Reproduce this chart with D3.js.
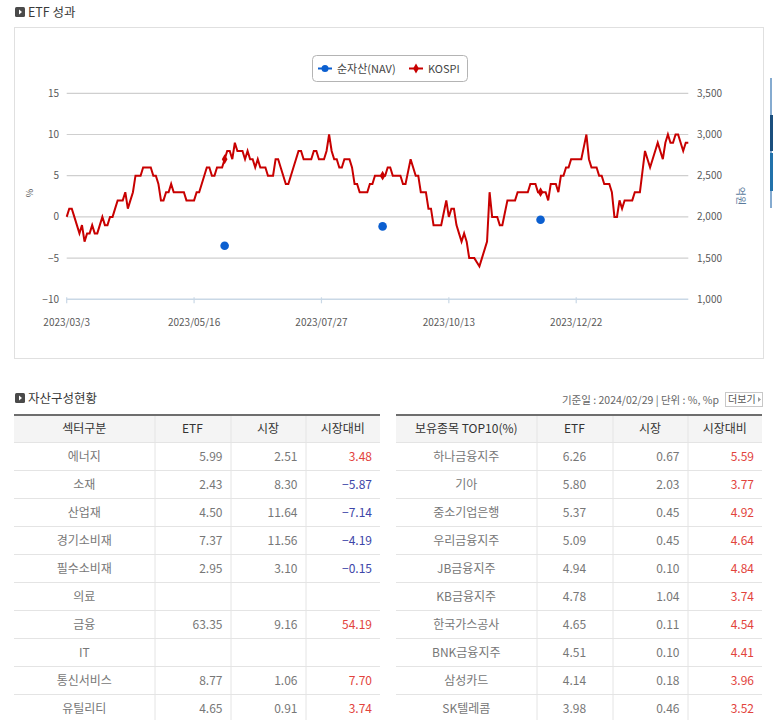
<!DOCTYPE html>
<html>
<head>
<meta charset="utf-8">
<script src="https://cdn.jsdelivr.net/npm/d3@7"></script>
<style>
  body { margin: 0; background: #fff; }
  svg { font-family: "Noto Sans CJK KR", "Noto Sans", sans-serif; display: block; }
</style>
</head>
<body>
<svg id="page" width="773" height="720"></svg>
<script>
// KOSPI return (%) per trading day, 2023/03/03 .. 2024/02/29
const kospi = [
  0, 1, 1, 0, -1, -2, -1, -3, -2, -2,
  -1, -2, -2, -1, 0, -1, -1, 0, 0, 1,
  2, 2, 2, 3, 1, 2, 3, 5, 5, 5,
  6, 6, 6, 6, 5, 5, 4, 2, 2, 3,
  3, 4, 3, 3, 3, 3, 3, 2, 2, 2,
  2, 3, 3, 4, 5, 6, 6, 5, 5, 6,
  6, 6, 7, 8, 8, 7, 9, 8, 8, 8,
  7, 8, 7, 7, 6, 7, 6, 6, 6, 5,
  5, 5, 7, 7, 6, 5, 4, 4, 5, 6,
  7, 8, 8, 7, 7, 7, 7, 8, 8, 7,
  7, 7, 8, 10, 8, 7, 7, 6, 6, 7,
  7, 7, 6, 4, 4, 3, 3, 3, 3, 4,
  4, 5, 5, 5, 5, 5, 6, 6, 5, 5,
  5, 5, 4, 4, 5.5, 7, 6, 5, 5, 3,
  3, 3, 1, 1, -1, -1, -1, -1, 0.5, 2,
  0, 1, 1, -1, -2, -3, -2, -3, -5, -5,
  -5, -5.5, -6, -5, -4, -3, 3, 0, 0, 0,
  -1, -1, 0.5, 2, 2, 2, 2, 3, 3, 3,
  3, 3, 4, 4, 4, 3, 3, 3, 3, 2,
  4, 4, 4, 3, 5, 5, 6, 6, 7, 7,
  7, 7, 7, 8.5, 10, 7, 6, 6, 6, 5,
  5, 4, 4, 4, 3, 0, 0, 2, 1, 2,
  2, 2, 2, 3, 3, 3, 5.5, 8, 7, 6,
  7, 8, 9, 8, 7, 9, 10, 9, 9, 10,
  10, 9, 8, 9, 9
];
// NAV (억원) only reported on a few days
const navIdx = [62, 124, 186];
const navVals = [1650, 1885, 1965];

const xTickIdx = [0, 50, 100, 150, 200];
const xTickLabels = ["2023/03/3", "2023/05/16", "2023/07/27", "2023/10/13", "2023/12/22"];
const leftTicks = [-10, -5, 0, 5, 10, 15];
const rightTicks = [1000, 1500, 2000, 2500, 3000, 3500];

// 자산구성현황
const sectors = ["에너지", "소재", "산업재", "경기소비재", "필수소비재", "의료", "금융", "IT", "통신서비스", "유틸리티"];
const sectorEtf = [5.99, 2.43, 4.50, 7.37, 2.95, null, 63.35, null, 8.77, 4.65];
const sectorMkt = [2.51, 8.30, 11.64, 11.56, 3.10, null, 9.16, null, 1.06, 0.91];
const sectorDiff = [3.48, -5.87, -7.14, -4.19, -0.15, null, 54.19, null, 7.70, 3.74];

const holdings = ["하나금융지주", "기아", "중소기업은행", "우리금융지주", "JB금융지주", "KB금융지주", "한국가스공사", "BNK금융지주", "삼성카드", "SK텔레콤"];
const holdEtf = [6.26, 5.80, 5.37, 5.09, 4.94, 4.78, 4.65, 4.51, 4.14, 3.98];
const holdMkt = [0.67, 2.03, 0.45, 0.45, 0.10, 1.04, 0.11, 0.10, 0.18, 0.46];
const holdDiff = [5.59, 3.77, 4.92, 4.64, 4.84, 3.74, 4.54, 4.41, 3.96, 3.52];

const svg = d3.select("#page");

/**
 * Section title with small dark box icon
 */
function sectionTitle(x, y, label) {
  const g = svg.append("g").attr("transform", `translate(${x},${y})`);
  g.append("rect").attr("width", 10).attr("height", 10).attr("rx", 1.5).attr("fill", "#4a4a4a");
  g.append("path").attr("d", "M4,2.5 L7,5 L4,7.5 Z").attr("fill", "#fff");
  g.append("text").attr("x", 13).attr("y", 10)
    .attr("font-size", 12.5).attr("fill", "#3a3a3a").text(label);
}

sectionTitle(15, 7, "ETF 성과");

// chart panel
svg.append("rect").attr("x", 14.5).attr("y", 27.5).attr("width", 749).attr("height", 331)
  .attr("fill", "#fff").attr("stroke", "#e0e0e0");

// right edge tabs (part of the page behind)
svg.append("line").attr("x1", 771).attr("x2", 771).attr("y1", 78).attr("y2", 208)
  .attr("stroke", "#5d8fc0").attr("stroke-width", 1.5);
svg.append("rect").attr("x", 770).attr("y", 115).attr("width", 3).attr("height", 36).attr("fill", "#1b4f7e");
svg.append("rect").attr("x", 770).attr("y", 153).attr("width", 3).attr("height", 38).attr("fill", "#2272ab");

const x = d3.scaleLinear().domain([0, kospi.length - 1]).range([66.7, 688.3]);
const yL = d3.scaleLinear().domain([-10, 15]).range([299.3, 93.3]);
const yR = d3.scaleLinear().domain([1000, 3500]).range([299.3, 93.3]);

// grid lines
svg.append("g").selectAll("line")
  .data(leftTicks.filter((d) => d !== -10))
  .enter().append("line")
  .attr("x1", x(0)).attr("x2", x(kospi.length - 1))
  .attr("y1", (d) => yL(d)).attr("y2", (d) => yL(d))
  .attr("stroke", "#cfcfcf").attr("stroke-width", 1.2);

// x axis baseline + ticks
svg.append("line")
  .attr("x1", x(0)).attr("x2", x(kospi.length - 1))
  .attr("y1", yL(-10)).attr("y2", yL(-10))
  .attr("stroke", "#c9d8e6").attr("stroke-width", 1.5);
svg.append("g").selectAll("line")
  .data(xTickIdx).enter().append("line")
  .attr("x1", (d) => x(d)).attr("x2", (d) => x(d))
  .attr("y1", yL(-10) - 2).attr("y2", yL(-10) + 4)
  .attr("stroke", "#c9d8e6").attr("stroke-width", 1.2);
svg.append("g").selectAll("text")
  .data(xTickIdx).enter().append("text")
  .attr("x", (d) => x(d)).attr("y", 326)
  .attr("text-anchor", "middle").attr("font-size", 10).attr("fill", "#5a5a5a")
  .text((d, i) => xTickLabels[i]);

// left axis labels
svg.append("g").selectAll("text")
  .data(leftTicks).enter().append("text")
  .attr("x", 59).attr("y", (d) => yL(d) + 3.5)
  .attr("text-anchor", "end").attr("font-size", 10).attr("fill", "#5a5a5a")
  .text((d) => (d < 0 ? "\u2212" + Math.abs(d) : d));
svg.append("text").attr("transform", "translate(33,193) rotate(-90)")
  .attr("text-anchor", "middle").attr("font-size", 9).attr("fill", "#555").text("%");

// right axis labels
svg.append("g").selectAll("text")
  .data(rightTicks).enter().append("text")
  .attr("x", 697).attr("y", (d) => yR(d) + 3.5)
  .attr("font-size", 10).attr("fill", "#5a5a5a")
  .text((d) => d3.format(",")(d));
svg.append("text").attr("transform", "translate(737,196) rotate(90)")
  .attr("text-anchor", "middle").attr("font-size", 10).attr("fill", "#5a7a9c").text("억원");

// KOSPI line
const line = d3.line().x((d, i) => x(i)).y((d) => yL(d));
svg.append("path").datum(kospi)
  .attr("d", line).attr("fill", "none")
  .attr("stroke", "#c80000").attr("stroke-width", 2).attr("stroke-linejoin", "miter");

// KOSPI markers on NAV days
const diamond = d3.symbol().type(d3.symbolDiamond).size(28);
svg.append("g").selectAll("path")
  .data(navIdx).enter().append("path")
  .attr("d", diamond)
  .attr("transform", (d) => `translate(${x(d)},${yL(kospi[d])})`)
  .attr("fill", "#c80000");

// NAV points
svg.append("g").selectAll("circle")
  .data(navIdx).enter().append("circle")
  .attr("cx", (d) => x(d)).attr("cy", (d, i) => yR(navVals[i]))
  .attr("r", 4.3).attr("fill", "#0b5fd0");

// legend
const lg = svg.append("g").attr("transform", "translate(312,55)");
lg.append("rect").attr("x", 0.5).attr("y", 0.5).attr("width", 155).attr("height", 26).attr("rx", 4)
  .attr("fill", "#fff").attr("stroke", "#b4b4b4");
lg.append("line").attr("x1", 6).attr("x2", 20).attr("y1", 13.5).attr("y2", 13.5)
  .attr("stroke", "#0b5fd0").attr("stroke-width", 2);
lg.append("circle").attr("cx", 13).attr("cy", 13.5).attr("r", 3.5).attr("fill", "#0b5fd0");
lg.append("text").attr("x", 25).attr("y", 17.5).attr("font-size", 11).attr("fill", "#444").text("순자산(NAV)");
lg.append("line").attr("x1", 97).attr("x2", 111).attr("y1", 13.5).attr("y2", 13.5)
  .attr("stroke", "#c80000").attr("stroke-width", 2);
lg.append("path").attr("d", diamond).attr("transform", "translate(104,13.5)").attr("fill", "#c80000");
lg.append("text").attr("x", 116).attr("y", 17.5).attr("font-size", 11).attr("fill", "#444").text("KOSPI");

// ---------- 자산구성현황 ----------
sectionTitle(15, 393, "자산구성현황");

svg.append("text").attr("x", 719).attr("y", 403.5).attr("text-anchor", "end")
  .attr("font-size", 10.5).attr("fill", "#666")
  .text("기준일 : 2024/02/29  |  단위 : %, %p");
const more = svg.append("g").attr("transform", "translate(725,392)");
more.append("rect").attr("x", 0.5).attr("y", 0.5).attr("width", 37).attr("height", 14)
  .attr("fill", "#fff").attr("stroke", "#c8c8c8");
more.append("text").attr("x", 3).attr("y", 11).attr("font-size", 10).attr("fill", "#555").text("더보기");
more.append("path").attr("d", "M33,5 L36,7.5 L33,10 Z").attr("fill", "#999");

const fmt = (v) => (v === null ? "" : (v < 0 ? "\u2212" : "") + Math.abs(v).toFixed(2));

/**
 * Draw a simple grid table
 * @param {*} edges - column boundaries
 * @param {*} headers - header labels
 * @param {*} aligns - "middle" or "end" per column
 * @param {*} cols - array of column value arrays
 */
function drawTable(edges, headers, aligns, cols) {
  const top = 414;
  const rowH = 28;
  const nRows = cols[0].length;
  const g = svg.append("g");
  const left = edges[0];
  const right = edges[edges.length - 1];

  g.append("rect").attr("x", left).attr("y", top).attr("width", right - left).attr("height", rowH)
    .attr("fill", "#f4f4f4");
  g.append("line").attr("x1", left).attr("x2", right).attr("y1", top + 1).attr("y2", top + 1)
    .attr("stroke", "#6e6e6e").attr("stroke-width", 2);

  // vertical separators
  g.selectAll(".vsep").data(edges.slice(1, -1)).enter().append("line")
    .attr("x1", (d) => d + 0.5).attr("x2", (d) => d + 0.5)
    .attr("y1", top + 2).attr("y2", 720)
    .attr("stroke", "#e4e4e4");
  // row separators
  g.selectAll(".hsep").data(d3.range(1, nRows + 1)).enter().append("line")
    .attr("x1", left).attr("x2", right)
    .attr("y1", (d) => top + d * rowH + 0.5).attr("y2", (d) => top + d * rowH + 0.5)
    .attr("stroke", "#e4e4e4");

  g.selectAll(".hdr").data(headers).enter().append("text")
    .attr("x", (d, i) => (edges[i] + edges[i + 1]) / 2)
    .attr("y", top + 18.5).attr("text-anchor", "middle")
    .attr("font-size", 12).attr("fill", "#333").text((d) => d);

  cols.forEach((col, c) => {
    g.selectAll(".c" + c).data(col).enter().append("text")
      .attr("x", aligns[c] === "end" ? edges[c + 1] - 8 : (edges[c] + edges[c + 1]) / 2)
      .attr("y", (d, r) => top + rowH * (r + 1) + 18.5)
      .attr("text-anchor", aligns[c])
      .attr("font-size", 12)
      .attr("fill", (d) => {
        if (c < 3 || d === null) return "#777";
        return d < 0 ? "#3d45a8" : "#e2433c";
      })
      .text((d) => (typeof d === "string" ? d : fmt(d)));
  });
}

drawTable([14, 154.5, 230.5, 305.5, 380],
  ["섹터구분", "ETF", "시장", "시장대비"],
  ["middle", "end", "end", "end"],
  [sectors, sectorEtf, sectorMkt, sectorDiff]);

drawTable([396, 536.5, 612.5, 687.5, 762],
  ["보유종목 TOP10(%)", "ETF", "시장", "시장대비"],
  ["middle", "middle", "end", "end"],
  [holdings, holdEtf, holdMkt, holdDiff]);
</script>
</body>
</html>
